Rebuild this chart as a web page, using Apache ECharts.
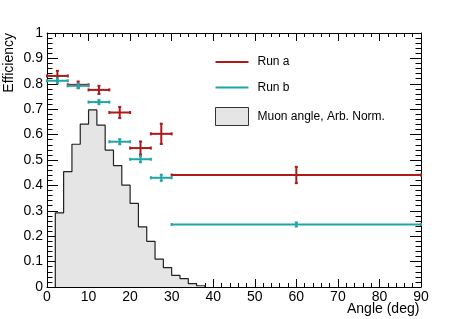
<!DOCTYPE html>
<html><head><meta charset="utf-8">
<script src="https://cdn.jsdelivr.net/npm/echarts@6/dist/echarts.min.js"></script>
<style>html,body{margin:0;padding:0;background:#fff}#c{width:469px;height:319px}</style>
</head><body><div id="c"></div>
<script>
// ---- data ----
const histStart = 2, histWidth = 2;
const histHeights = [0.292, 0.454, 0.562, 0.641, 0.697, 0.637, 0.539, 0.478, 0.401, 0.329, 0.237, 0.180, 0.110, 0.076, 0.046, 0.033, 0.013, 0.005];
const binLo = [0, 5, 10, 15, 20, 25, 30];
const binHi = [5, 10, 15, 20, 25, 30, 90];
const binCenter = [2.5, 7.5, 12.5, 17.5, 22.5, 27.5, 60];
const runA = [0.831, 0.796, 0.776, 0.687, 0.547, 0.603, 0.441];
const runAErr = [0.020, 0.013, 0.016, 0.022, 0.026, 0.040, 0.032];
const runB = [0.812, 0.792, 0.728, 0.572, 0.503, 0.430, 0.246];
const runBErr = [0.010, 0.009, 0.008, 0.010, 0.012, 0.012, 0.008];
const seriesNames = ['Run a', 'Run b', 'Muon angle, Arb. Norm.'];
const xTitle = 'Angle (deg)', yTitle = 'Efficiency';

const RED = '#ad1a1a', TEAL = '#1fa5a5';
const FONT = '"Liberation Sans", Arial, sans-serif';

const histPts = [[histStart, 0]];
histHeights.forEach((h, i) => {
  const lo = histStart + i * histWidth, hi = lo + histWidth;
  histPts.push([lo, h], [hi, h]);
});
histPts.push([histStart + histHeights.length * histWidth, 0]);

function errData(vals, errs) {
  return vals.map((v, i) => [binCenter[i], v, binLo[i], binHi[i], errs[i]]);
}
function renderErr(color) {
  return function (params, api) {
    const x = api.value(0), y = api.value(1), e = api.value(4);
    const l = api.coord([api.value(2), y]);
    const r = api.coord([api.value(3), y]);
    const t = api.coord([x, y + e]);
    const b = api.coord([x, y - e]);
    const st = { stroke: color, lineWidth: 2 };
    const cap = 1.5;
    const L = (x1, y1, x2, y2) => ({ type: 'line', shape: { x1, y1, x2, y2 }, style: st });
    return {
      type: 'group',
      children: [
        L(l[0], l[1], r[0], r[1]),
        L(t[0], t[1], b[0], b[1]),
        L(l[0], l[1] - cap, l[0], l[1] + cap),
        L(r[0], r[1] - cap, r[0], r[1] + cap),
        L(t[0] - cap, t[1], t[0] + cap, t[1]),
        L(b[0] - cap, b[1], b[0] + cap, b[1])
      ]
    };
  };
}

const tickFmt = v => String(parseFloat(Number(v).toFixed(1)));
function mkAxis(type, pos, min, max, interval, majorLen, minorLen, showLabels) {
  return {
    type: 'value', position: pos, min, max, interval,
    axisLine: { show: true, onZero: false, lineStyle: { color: '#000', width: 1 } },
    axisTick: { show: true, inside: true, length: majorLen, lineStyle: { color: '#000' } },
    minorTick: { show: true, splitNumber: 5, length: minorLen, lineStyle: { color: '#000' } },
    splitLine: { show: false }, minorSplitLine: { show: false },
    axisLabel: showLabels
      ? { show: true, color: '#000', fontFamily: FONT, fontSize: 14, margin: type === 'x' ? 3 : 4, formatter: tickFmt }
      : { show: false }
  };
}

const chart = echarts.init(document.getElementById('c'));
chart.setOption({
  animation: false,
  backgroundColor: '#fff',
  grid: { left: 47, right: 48, top: 33, bottom: 32, containLabel: false },
  legend: {
    orient: 'vertical', left: 210, top: 51, itemWidth: 33, itemHeight: 18, itemGap: 13.5,
    symbolKeepAspect: true,
    textStyle: { color: '#000', fontFamily: FONT, fontSize: 12, padding: [0, 0, 0, 4] },
    data: [
      { name: seriesNames[0], icon: 'path://M0,0H33V2H0Z', itemStyle: { color: RED, borderWidth: 0 } },
      { name: seriesNames[1], icon: 'path://M0,0H33V2H0Z', itemStyle: { color: TEAL, borderWidth: 0 } },
      { name: seriesNames[2], icon: 'rect', itemStyle: { color: '#e5e5e5', borderColor: '#333', borderWidth: 1 } }
    ]
  },
  xAxis: [
    mkAxis('x', 'bottom', 0, 90, 10, 8, 4, true),
    mkAxis('x', 'top', 0, 90, 10, 8, 4, false)
  ],
  yAxis: [
    mkAxis('y', 'left', 0, 1, 0.1, 11, 5.5, true),
    mkAxis('y', 'right', 0, 1, 0.1, 11, 5.5, false)
  ],
  graphic: [
    { type: 'text', left: 347, top: 302, style: { text: xTitle, fill: '#000', font: '14px ' + FONT } },
    { type: 'text', x: 2, y: 33, rotation: Math.PI / 2, style: { text: yTitle, fill: '#000', font: '14px ' + FONT, align: 'right', verticalAlign: 'top' } }
  ],
  series: [
    {
      name: seriesNames[2], type: 'line', data: histPts, symbol: 'none', z: 1,
      lineStyle: { color: '#222', width: 1.2 },
      itemStyle: { color: '#e5e5e5' },
      areaStyle: { color: '#e5e5e5', opacity: 1 },
      silent: true
    },
    {
      name: seriesNames[0], type: 'custom', data: errData(runA, runAErr), z: 3,
      itemStyle: { color: RED },
      encode: { x: [0, 2, 3], y: 1 },
      renderItem: renderErr(RED)
    },
    {
      name: seriesNames[1], type: 'custom', data: errData(runB, runBErr), z: 3,
      itemStyle: { color: TEAL },
      encode: { x: [0, 2, 3], y: 1 },
      renderItem: renderErr(TEAL)
    }
  ]
});
</script></body></html>
